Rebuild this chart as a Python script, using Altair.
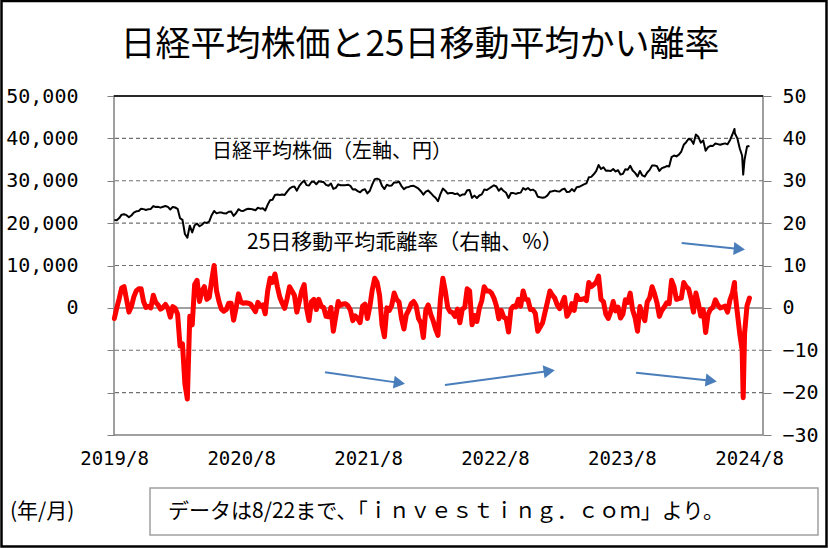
import altair as alt
import pandas as pd

# ---------------- data ----------------
week_start = "2019-08-23"  # weekly closes (Fridays)

nikkei_2019 = [20710, 20704, 21199, 21988, 22079, 21879, 21410, 21799, 22492, 22800,
               22851, 23392, 23303, 23113, 23294, 23354, 24023, 23816, 23837]
nikkei_2020 = [23657, 23850, 24041, 23827, 23205, 23827, 23688, 23387, 21143,
               20750, 17431, 16553, 19389, 17820, 19499, 19897, 19262,
               19619, 20179, 20037, 20388, 21878, 22864, 22305, 22479, 22512,
               22306, 22291, 22696, 22751, 21710, 22329, 23289, 22920, 22883,
               23205, 23406, 23360, 23205, 23030, 23620, 23411, 23517, 22977,
               24325, 25385, 25527, 26645, 26751, 26653, 26763, 26657]
nikkei_2021 = [27444, 28139, 28519, 28631, 27663, 28779, 29520, 30018, 28966,
               28864, 29717, 29792, 29177, 29854, 29768, 29683, 29021, 28813,
               29358, 28084, 28318, 29149, 28942, 28949, 28964, 29066,
               28783, 27940, 28003, 27548, 27284, 27820, 27977, 27013, 27641,
               29128, 30382, 30500, 30249, 28771, 28049, 29069, 28805, 28893,
               29612, 29610, 29746, 28752, 28030, 28438, 28546, 28782, 28792]
nikkei_2022 = [28479, 28124, 27522, 26717, 27440, 27697, 27122, 26477,
               25985, 25163, 26827, 28150, 27666, 26986, 27093, 27105, 26848,
               27004, 26428, 26739, 26782, 27762, 27824, 25963, 26491,
               25935, 26517, 26788, 27915, 27802, 28176, 28547, 28930, 28641,
               27650, 28215, 27568, 27154, 25937, 27116, 27091, 26891, 27105,
               27199, 28264, 27900, 28283, 27778, 27901, 27527, 26235, 26095]
nikkei_2023 = [25974, 26120, 26554, 27383, 27509, 27671, 27513, 27454,
               27927, 28144, 27334, 27385, 28041, 27518, 28493, 28564, 28856,
               29158, 29388, 30808, 30916, 31524, 32265, 33706, 32782, 33189,
               32388, 32391, 32304, 32760, 32193, 32474, 31451, 31625,
               32711, 32607, 33533, 32402, 31858, 30995, 32316, 31259, 30992,
               31950, 32568, 33585, 33626, 33432, 32308, 32971, 33170, 33464]
nikkei_2024 = [33377, 35577, 35963, 35751, 36158, 36897, 38487, 39099,
               39911, 39689, 38708, 40888, 40369, 38992, 39523, 37068, 37934,
               38236, 38229, 38787, 38647, 38488, 38684, 38815, 38596, 39583,
               40913, 41191, 40064, 37667, 35910, 35025, 38063, 38211]

dev_2019 = [-2.5, 0.0, 2.2, 4.7, 5.0, 2.0, -1.0, 0.3, 2.6, 4.0,
            4.5, 4.5, 1.5, 0.1, 0.4, 0.0, 3.0, 1.3, 0.7]
dev_2020 = [-0.3, 0.1, 0.8, -0.1, -2.2, 0.3, -0.1, -1.5, -9.0,
            -8.5, -18.0, -21.5, -2.0, -4.0, 5.5, 6.5, 1.5,
            4.0, 5.0, 2.0, 2.5, 6.5, 10.0, 4.0, 1.5, -0.3,
            -0.8, -0.4, 1.1, 1.1, -2.9, -0.1, 3.3, 1.4, 1.1,
            1.2, 1.1, 0.9, 0.0, -0.9, 1.3, 0.4, 0.7, -1.4,
            4.0, 7.0, 6.0, 8.0, 5.0, 2.5, 1.1, -0.1]
dev_2021 = [2.2, 5.0, 4.0, 3.0, -1.0, 1.5, 4.0, 5.5, -0.1,
            -3.0, 1.5, 2.0, -0.4, 2.0, 0.4, 0.1, -2.0, -2.1,
            0.1, -5.5, -2.0, 1.5, 0.6, 0.9, 1.0, 0.5,
            -0.5, -3.0, -1.9, -2.5, -3.5, 0.4, 0.9, -2.5, 0.3,
            4.3, 7.0, 6.0, 3.0, -4.0, -6.8, 0.0, -0.6, 0.6,
            3.5, 2.0, 1.4, -2.5, -5.0, -1.6, -0.5, 1.0, 1.5]
dev_2022 = [0.5, -2.5, -3.5, -7.0, -0.5, 0.7, -1.5, -3.0,
            -5.0, -6.5, 2.0, 7.0, 4.0, 0.1, -0.9, -1.1, -2.0,
            -0.3, -3.5, -0.3, 0.1, 4.5, 4.0, -4.0, -1.8,
            -3.2, -0.1, 1.7, 5.0, 4.0, 4.0, 3.5, 2.3, 0.5,
            -2.6, -0.6, -2.2, -2.5, -5.7, -0.3, 0.4, 0.2, 2.0,
            0.4, 4.0, 2.0, 1.9, -0.4, -0.4, -1.3, -5.5, -4.5]
dev_2023 = [-3.5, -1.0, 1.4, 4.0, 3.0, 2.3, 0.7, -0.2,
            1.1, 2.5, -2.0, -1.0, 1.0, -0.6, 3.0, 2.0, 2.0,
            2.2, 1.7, 6.0, 5.0, 5.5, 6.0, 7.5, 2.0, 1.5,
            -1.5, -2.5, -0.9, 1.5, -0.7, 0.2, -2.4, -1.5,
            1.9, 1.3, 3.5, -0.5, -2.3, -5.5, 0.3, -1.6, -3.0,
            1.4, 2.4, 5.0, 3.3, 1.2, -2.0, -0.6, 0.2, 1.2]
dev_2024 = [1.0, 6.5, 5.0, 2.0, 2.2, 2.3, 6.0, 5.0,
            4.5, 2.2, -1.0, 3.5, 1.1, -1.9, -0.4, -5.8, -1.5,
            -0.3, 0.1, 1.9, 0.7, 0.0, 0.2, 0.4, -1.0, 1.9,
            3.5, 4.0, -1.0, -6.0, -10.0, -6.0, 0.5, 2.3]

# daily extremes between weekly closes
extra_dates = ["2024-07-11", "2024-08-05"]
extra_nikkei = [42224, 31458]
extra_dev = [6.0, -21.2]

# blue annotation arrows (start -> head), in data units
arrow_start_date = ["2024-02-10", "2021-04-20", "2022-03-31", "2023-10-02"]
arrow_start_val = [15.3, -15.2, -18.2, -15.3]
arrow_end_date = ["2024-07-25", "2021-11-20", "2023-01-25", "2024-05-05"]
arrow_end_val = [13.9, -17.7, -14.9, -17.2]
arrow_angle = [5, 8, 352, 7]

grid_dashed = [-20, -10, 10, 20, 30, 40]
axis_ticks = [-30, -20, -10, 0, 10, 20, 30, 40, 50]
tick_years = [2019, 2020, 2021, 2022, 2023, 2024]

title_text = "日経平均株価と25日移動平均かい離率"
label_nikkei = "日経平均株価（左軸、円）"
label_dev = "25日移動平均乖離率（右軸、%）"
unit_text = "(年/月)"
note_text = "データは8/22まで、「ｉｎｖｅｓｔｉｎｇ．ｃｏｍ」より。"

nikkei = nikkei_2019 + nikkei_2020 + nikkei_2021 + nikkei_2022 + nikkei_2023 + nikkei_2024
dev = dev_2019 + dev_2020 + dev_2021 + dev_2022 + dev_2023 + dev_2024
assert len(nikkei) == len(dev) == 262, (len(nikkei), len(dev))

dates = pd.date_range(week_start, periods=len(nikkei), freq="7D").strftime("%Y-%m-%d").tolist()
df = pd.DataFrame({"date": dates + extra_dates,
                   "nikkei": nikkei + extra_nikkei,
                   "dev": dev + extra_dev}).sort_values("date")

arrows = pd.DataFrame({"d0": arrow_start_date, "v0": arrow_start_val,
                       "d1": arrow_end_date, "v1": arrow_end_val, "ang": arrow_angle})

# ---------------- chart ----------------
JP = "Noto Sans CJK JP"
MONO = "DejaVu Sans Mono"
GRAY = "#808080"

x_scale = alt.Scale(domain=[alt.DateTime(year=2019, month=8, date=22),
                            alt.DateTime(year=2024, month=10, date=1)])
y_scale = alt.Scale(domain=[-30, 50], nice=False, zero=False)

x_axis = alt.Axis(values=[alt.DateTime(year=y, month=8, date=22) for y in tick_years],
                  labelExpr="timeFormat(datum.value, '%Y/%-m')",
                  domain=False, ticks=False, grid=False, labelPadding=14,
                  labelFont=MONO, labelFontSize=19, labelColor="black", labelFlush=False,
                  labelOverlap=False)

left_axis = alt.Axis(orient="left", values=axis_ticks,
                     labelExpr="datum.value >= 0 ? format(datum.value * 1000, ',') : ''",
                     domain=False, grid=False, tickSize=7, tickColor=GRAY, labelPadding=29,
                     labelFont=MONO, labelFontSize=20, labelColor="black")
right_axis = alt.Axis(orient="right", values=axis_ticks, format="d",
                      domain=False, grid=False, tickSize=8, tickColor=GRAY, labelPadding=11,
                      labelFont=MONO, labelFontSize=20, labelColor="black")

one = pd.DataFrame({"k": [0]})

grid = alt.Chart(pd.DataFrame({"g": grid_dashed})).mark_rule(
    color="#707070", strokeWidth=1.2, strokeDash=[4, 3]
).encode(y=alt.Y("g:Q", scale=y_scale, axis=None))

zero_line = alt.Chart(pd.DataFrame({"g": [0]})).mark_rule(
    color=GRAY, strokeWidth=1.5
).encode(y=alt.Y("g:Q", scale=y_scale, axis=None))

top_line = alt.Chart(pd.DataFrame({"g": [50]})).mark_rule(
    color="black", strokeWidth=1.5
).encode(y=alt.Y("g:Q", scale=y_scale, axis=None))

black = alt.Chart(df).transform_calculate(nk="datum.nikkei / 1000").mark_line(
    color="black", strokeWidth=2, strokeJoin="round"
).encode(x=alt.X("date:T", scale=x_scale, axis=x_axis, title=None),
         y=alt.Y("nk:Q", scale=y_scale, axis=left_axis, title=None))

red = alt.Chart(df).mark_line(
    color="#FF0000", strokeWidth=5, strokeJoin="round", strokeCap="round"
).encode(x=alt.X("date:T", scale=x_scale, axis=None),
         y=alt.Y("dev:Q", scale=y_scale, axis=right_axis, title=None))

shafts = alt.Chart(arrows).mark_rule(color="#4a7ebb", strokeWidth=2).encode(
    x=alt.X("d0:T", scale=x_scale, axis=None), x2="d1:T",
    y=alt.Y("v0:Q", scale=y_scale, axis=None), y2="v1:Q")

heads = alt.Chart(arrows).mark_point(
    shape="triangle-right", filled=True, color="#4a7ebb", opacity=1, size=170
).encode(x=alt.X("d1:T", scale=x_scale, axis=None),
         y=alt.Y("v1:Q", scale=y_scale, axis=None),
         angle=alt.Angle("ang:Q", scale=None))


def txt(s, x, y, size, align="left"):
    return alt.Chart(one).mark_text(
        text=s, font=JP, fontSize=size, align=align, baseline="middle", color="black"
    ).encode(x=alt.value(x), y=alt.value(y))


title = txt(title_text, 306, -51, 35, "center")
lab1 = txt(label_nikkei, 98, 56, 20)
lab2 = txt(label_dev, 133, 147, 21)
unit = txt(unit_text, -104, 416, 21)

box = alt.Chart(one).mark_rect(fill="white", stroke="#a0a0a0", strokeWidth=1.5).encode(
    x=alt.value(36), x2=alt.value(704), y=alt.value(392), y2=alt.value(439))
note = txt(note_text, 54, 416, 21)

frame = alt.Chart(one).mark_rect(fillOpacity=0, stroke="black", strokeWidth=2.5).encode(
    x=alt.value(-112.5), x2=alt.value(712.5), y=alt.value(-95), y2=alt.value(450.5))

chart = alt.layer(
    grid, zero_line, top_line, black, red, shafts, heads,
    title, lab1, lab2, unit, box, note, frame
).resolve_axis(x="independent", y="independent").properties(
    width=649, height=339,
    autosize=alt.AutoSizeParams(type="none"),
    padding={"left": 114, "top": 96, "right": 65, "bottom": 113},
    background="white",
).configure_view(stroke=GRAY, strokeWidth=1.5)

chart.save("out.html", embed_options={"renderer": "svg", "actions": False})
